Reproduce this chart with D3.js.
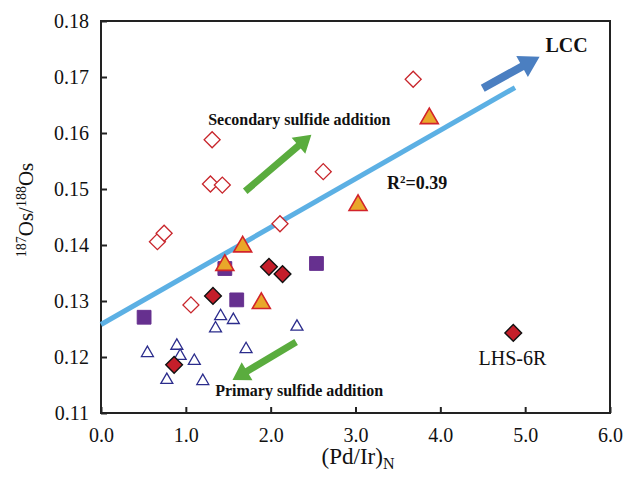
<!DOCTYPE html>
<html>
<head>
<meta charset="utf-8">
<script src="https://cdn.jsdelivr.net/npm/d3@7"></script>
<style>
  body { margin: 0; background: #fff; }
  text { font-family: 'Liberation Serif', 'Times New Roman', serif; }
</style>
</head>
<body>
<div id="viz"></div>
<script>
// tick values
const xTicks = [0, 1, 2, 3, 4, 5, 6];
const yTicks = [0.11, 0.12, 0.13, 0.14, 0.15, 0.16, 0.17, 0.18];

// open red diamonds
const openDiaX = [3.68, 1.31, 1.29, 1.43, 2.62, 2.11, 0.665, 0.744, 1.06];
const openDiaY = [0.1696, 0.1588, 0.1509, 0.1507, 0.1531, 0.1438, 0.1406, 0.1421, 0.1293];

// filled red diamonds
const fillDiaX = [1.98, 2.14, 1.32, 0.862, 4.86];
const fillDiaY = [0.1361, 0.1348, 0.1309, 0.1186, 0.1243];

// purple squares
const squareX = [2.54, 1.60, 0.508, 1.46];
const squareY = [0.1367, 0.1302, 0.1271, 0.1358];

// orange triangles
const orangeX = [3.87, 3.03, 1.67, 1.46, 1.89];
const orangeY = [0.1626, 0.1471, 0.1397, 0.1364, 0.1296];

// open blue triangles
const blueX = [1.41, 1.56, 1.35, 2.31, 0.547, 0.894, 0.933, 1.71, 1.10, 0.776, 1.20];
const blueY = [0.1273, 0.1266, 0.1251, 0.1254, 0.1207, 0.1220, 0.1202, 0.1214, 0.1193, 0.1159, 0.1157];

// regression line end points
const fitX = [0, 4.88];
const fitY = [0.1258, 0.1681];

// arrows [x1, y1, x2, y2] in data units
const secArrow = [1.70, 0.1496, 2.48, 0.1597];
const priArrow = [2.30, 0.1227, 1.55, 0.1159];
const lccArrow = [4.50, 0.1680, 5.17, 0.1736];

let width = 626, height = 477,
    margin = { top: 21, right: 610, bottom: 413, left: 101 };

let x = d3.scaleLinear().domain([0, 6]).range([margin.left, margin.right]);
let y = d3.scaleLinear().domain([0.11, 0.18]).range([margin.bottom, margin.top]);

let svg = d3.select('#viz').append('svg')
  .attr('width', width)
  .attr('height', height);

// frame
svg.append('rect')
  .attr('x', margin.left).attr('y', margin.top)
  .attr('width', margin.right - margin.left).attr('height', margin.bottom - margin.top)
  .attr('fill', 'none').attr('stroke', '#222').attr('stroke-width', 2);

let xAxis = svg.append('g')
  .attr('transform', 'translate(0,' + margin.bottom + ')')
  .call(d3.axisBottom(x).tickValues(xTicks).tickSizeInner(-6).tickSizeOuter(0)
    .tickPadding(15).tickFormat(d3.format('.1f')));

let yAxis = svg.append('g')
  .attr('transform', 'translate(' + margin.left + ',0)')
  .call(d3.axisLeft(y).tickValues(yTicks).tickSizeInner(-6).tickSizeOuter(0)
    .tickPadding(12).tickFormat(d3.format('.2f')));

[xAxis, yAxis].forEach(function(g) {
  g.select('.domain').remove();
  g.selectAll('line').attr('stroke', '#222').attr('stroke-width', 2);
  g.selectAll('text').attr('fill', '#111').style('font-size', '20px')
    .style('font-family', "'Liberation Serif', serif");
});

// axis titles
let xt = svg.append('text')
  .attr('x', 358).attr('y', 464)
  .attr('text-anchor', 'middle')
  .style('font-size', '23px').attr('fill', '#111');
xt.append('tspan').text('(Pd/Ir)');
xt.append('tspan').attr('dy', 5).style('font-size', '16px').text('N');

let yt = svg.append('text')
  .attr('transform', 'translate(33,210) rotate(-90)')
  .attr('text-anchor', 'middle')
  .style('font-size', '21px').attr('fill', '#111');
yt.append('tspan').attr('dy', -7).style('font-size', '14px').text('187');
yt.append('tspan').attr('dy', 7).text('Os/');
yt.append('tspan').attr('dy', -7).style('font-size', '14px').text('188');
yt.append('tspan').attr('dy', 7).text('Os');

// regression line
svg.append('line')
  .attr('x1', x(fitX[0])).attr('y1', y(fitY[0]))
  .attr('x2', x(fitX[1])).attr('y2', y(fitY[1]))
  .attr('stroke', '#5cb0e4').attr('stroke-width', 5);

function arrowPath(a, shaftW, headL, headW) {
  let x1 = x(a[0]), y1 = y(a[1]), x2 = x(a[2]), y2 = y(a[3]);
  let dx = x2 - x1, dy = y2 - y1, len = Math.sqrt(dx * dx + dy * dy);
  let ux = dx / len, uy = dy / len, px = -uy, py = ux;
  let bx = x2 - ux * headL, by = y2 - uy * headL;
  let pts = [
    [x1 + px * shaftW / 2, y1 + py * shaftW / 2],
    [bx + px * shaftW / 2, by + py * shaftW / 2],
    [bx + px * headW / 2, by + py * headW / 2],
    [x2, y2],
    [bx - px * headW / 2, by - py * headW / 2],
    [bx - px * shaftW / 2, by - py * shaftW / 2],
    [x1 - px * shaftW / 2, y1 - py * shaftW / 2]
  ];
  return 'M' + pts.map(function(p) { return p.join(','); }).join('L') + 'Z';
}

svg.append('path').attr('d', arrowPath(secArrow, 7, 17, 21)).attr('fill', '#5aac3e');
svg.append('path').attr('d', arrowPath(priArrow, 7, 17, 21)).attr('fill', '#5aac3e');
svg.append('path').attr('d', arrowPath(lccArrow, 8, 20, 24)).attr('fill', '#4b7fc1');

// annotations
function label(txt, dx, dy, size, bold) {
  return svg.append('text')
    .attr('x', x(dx)).attr('y', y(dy))
    .style('font-size', size + 'px')
    .style('font-weight', bold ? 'bold' : 'normal')
    .attr('fill', '#111')
    .text(txt);
}
label('Secondary sulfide addition', 1.264, 0.1614, 16, true);
label('Primary sulfide addition', 1.346, 0.1130, 16, true);
label('LCC', 5.24, 0.1745, 20, true);
label('LHS-6R', 4.45, 0.1186, 20, false);
let r2 = label('R', 3.37, 0.150, 18, true);
r2.append('tspan').attr('dy', -6).style('font-size', '11px').text('2');
r2.append('tspan').attr('dy', 6).text('=0.39');

// markers
function markers(xs, ys, type, size, rotate, fill, stroke, sw) {
  svg.append('g').selectAll('path').data(xs)
    .enter().append('path')
    .attr('d', d3.symbol().type(type).size(size))
    .attr('transform', function(d, i) {
      return 'translate(' + x(d) + ',' + y(ys[i]) + ')' + (rotate ? ' rotate(45)' : '');
    })
    .attr('fill', fill)
    .attr('stroke', stroke)
    .attr('stroke-width', sw);
}

markers(openDiaX, openDiaY, d3.symbolSquare, 128, true, '#fff', '#c8262c', 1.3);
markers(blueX, blueY, d3.symbolTriangle, 62, false, '#fff', '#2b2c8c', 1.3);
markers(squareX, squareY, d3.symbolSquare, 190, false, '#66308f', '#66308f', 1);
markers(fillDiaX, fillDiaY, d3.symbolSquare, 140, true, '#c41e2a', '#111', 1.4);
markers(orangeX, orangeY, d3.symbolTriangle, 140, false, '#e9a72a', '#d2232a', 1.6);
</script>
</body>
</html>
